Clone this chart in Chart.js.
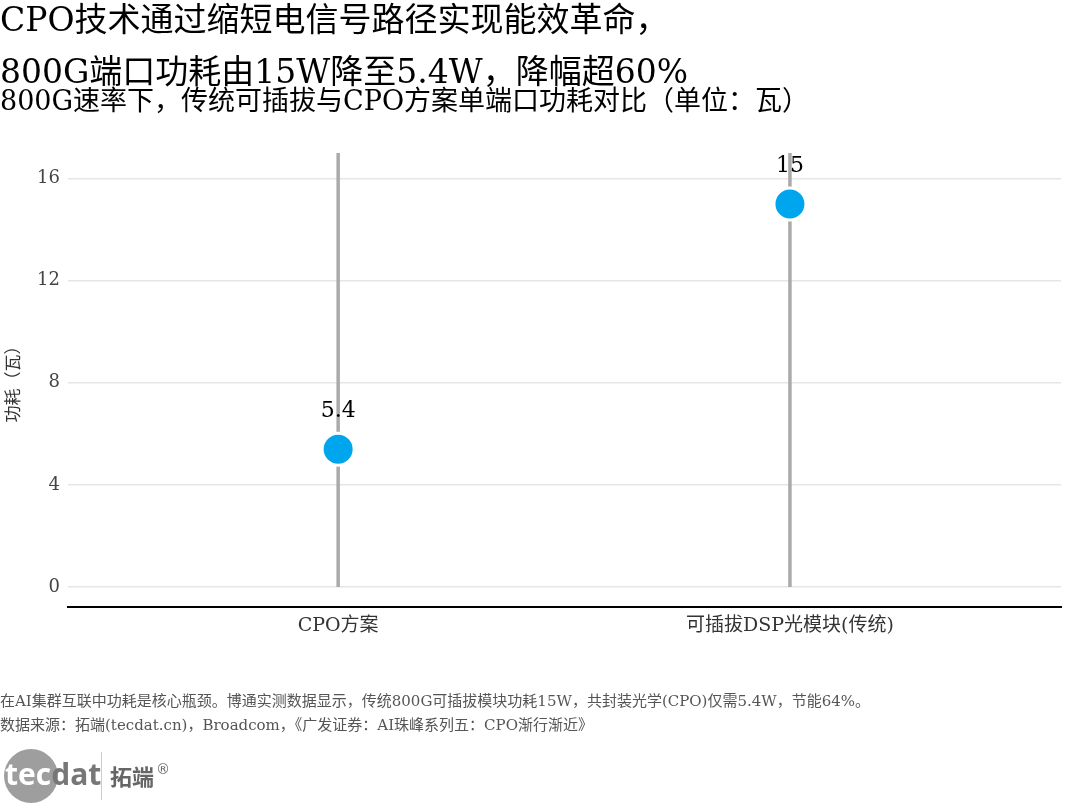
<!DOCTYPE html>
<html><head><meta charset="utf-8">
<script src="https://cdn.jsdelivr.net/npm/chart.js@4"></script>
<style>html,body{margin:0;padding:0;background:#fff}canvas{display:block}</style>
</head><body>
<div style="width:1080px;height:810px;position:relative"><canvas id="c"></canvas></div>
<script>
const categories = ["CPO方案", "可插拔DSP光模块(传统)"];
const powerValues = [5.4, 15];
const valueLabels = ["5.4", "15"];
const yTicks = [0, 4, 8, 12, 16];

const SERIF = '"DejaVu Serif","Liberation Serif","Noto Sans CJK SC",serif';
const stemData = [];
categories.forEach((c, i) => { stemData.push({x:i, y:0}, {x:i, y:17}, {x:null, y:null}); });

const textPlugin = {
  id: 'texts',
  afterDraw(chart) {
    const ctx = chart.ctx;
    ctx.save();
    ctx.fillStyle = '#000';
    ctx.textBaseline = 'middle';
    ctx.textAlign = 'left';
    ctx.font = '33px ' + SERIF;
    ctx.fillText('CPO技术通过缩短电信号路径实现能效革命，', 0, 22);
    ctx.fillText('800G端口功耗由15W降至5.4W，降幅超60%', 0, 74);
    ctx.font = '27px ' + SERIF;
    ctx.fillText('800G速率下，传统可插拔与CPO方案单端口功耗对比（单位：瓦）', 0, 103);
    const xs = chart.scales.x, ys = chart.scales.y;
    ctx.font = '22px ' + SERIF;
    ctx.textAlign = 'center';
    powerValues.forEach((v, i) => {
      ctx.fillText(valueLabels[i], xs.getPixelForValue(i), ys.getPixelForValue(v) - 38);
    });
    ctx.textAlign = 'left';
    ctx.fillStyle = '#555';
    ctx.font = '15px ' + SERIF;
    ctx.fillText('在AI集群互联中功耗是核心瓶颈。博通实测数据显示，传统800G可插拔模块功耗15W，共封装光学(CPO)仅需5.4W，节能64%。', 0, 702);
    ctx.fillText('数据来源：拓端(tecdat.cn)，Broadcom，《广发证券：AI珠峰系列五：CPO渐行渐近》', 0, 726);
    ctx.fillStyle = '#9e9e9e';
    ctx.beginPath(); ctx.arc(31, 776, 27, 0, Math.PI*2); ctx.fill();
    ctx.font = 'bold 30px "Open Sans","DejaVu Sans",sans-serif';
    ctx.fillStyle = '#fff';
    ctx.fillText('tec', 5, 776);
    const w = ctx.measureText('tec').width;
    ctx.fillStyle = '#777';
    ctx.fillText('dat', 5 + w, 776);
    ctx.fillStyle = '#ccc';
    ctx.fillRect(101, 752, 1, 48);
    ctx.fillStyle = '#666';
    ctx.font = 'bold 22px "Noto Sans CJK SC",sans-serif';
    ctx.fillText('拓端', 110, 777);
    ctx.font = '14px "DejaVu Sans",sans-serif';
    ctx.fillText('®', 156, 770);
    ctx.restore();
  }
};

new Chart(document.getElementById('c'), {
  type: 'line',
  data: {
    datasets: [
      { data: stemData, borderColor: '#aaaaaa', borderWidth: 3.5, pointRadius: 0, spanGaps: false, order: 2 },
      { data: powerValues.map((v, i) => ({x:i, y:v})), showLine: false, pointRadius: 16,
        pointBackgroundColor: '#00a6ed', pointBorderColor: '#ffffff', pointBorderWidth: 3, order: 1 }
    ]
  },
  options: {
    responsive: true, maintainAspectRatio: false, animation: false,
    layout: { padding: { left: 0, right: 12, top: 153, bottom: 163 } },
    plugins: { legend: { display: false }, tooltip: { enabled: false } },
    scales: {
      x: {
        type: 'linear', min: -0.598, max: 1.6,
        afterBuildTicks: s => { s.ticks = categories.map((c, i) => ({value: i})); },
        afterFit: s => { s.height = 40; },
        ticks: { callback: v => categories[v], color: '#333', font: { family: SERIF, size: 19 }, padding: 8 },
        grid: { display: false, drawTicks: false },
        border: { display: true, color: '#000', width: 2 }
      },
      y: {
        min: -0.78, max: 17,
        afterBuildTicks: s => { s.ticks = yTicks.map(v => ({value: v})); },
        afterFit: s => { s.width = 68; },
        ticks: { color: '#444', font: { family: SERIF, size: 18 }, padding: 8 },
        grid: { color: '#e6e6e6', lineWidth: 1.5, drawTicks: false },
        border: { display: false },
        title: { display: true, text: '功耗（瓦）', color: '#333', font: { family: SERIF, size: 17 }, padding: 4 }
      }
    }
  },
  plugins: [textPlugin]
});
</script>
</body></html>
